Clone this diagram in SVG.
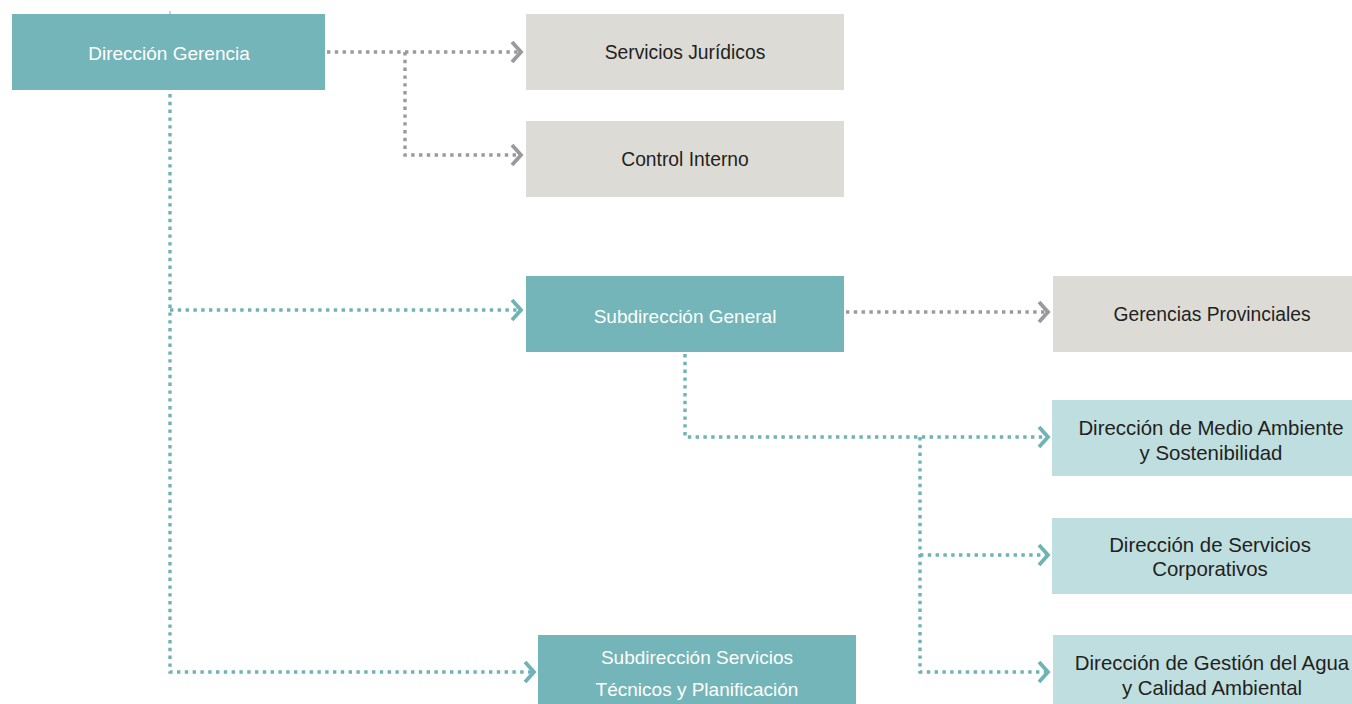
<svg xmlns="http://www.w3.org/2000/svg" width="1352" height="704" viewBox="0 0 1352 704">
<style>
.teal{fill:#74b5b9}
.gray{fill:#dcdbd6}
.light{fill:#bfdedf}
text{font-family:"Liberation Sans",Arial,sans-serif;font-size:19.3px;text-anchor:middle}
.w{fill:#ffffff;font-size:19px}
.d{fill:#231f20}
.l{font-size:20.4px}
.cg{fill:none;stroke:#9a9a9a;stroke-width:3.4;stroke-dasharray:3.4 4.4}
.ct{fill:none;stroke:#6fb3b5;stroke-width:3.4;stroke-dasharray:3.4 4.4}
</style>
<defs>
<marker id="ag" markerUnits="userSpaceOnUse" markerWidth="20" markerHeight="26" refX="12" refY="13" orient="auto" viewBox="0 0 20 26">
<path d="M3,3 L12,13 L3,23" fill="none" stroke="#9a9a9a" stroke-width="3.8"/>
</marker>
<marker id="at" markerUnits="userSpaceOnUse" markerWidth="20" markerHeight="26" refX="12" refY="13" orient="auto" viewBox="0 0 20 26">
<path d="M3,3 L12,13 L3,23" fill="none" stroke="#6fb3b5" stroke-width="3.8"/>
</marker>
</defs>
<g id="connectors">
<path class="cg" d="M327,52 H521" marker-end="url(#ag)"/>
<path class="cg" d="M405,52 V155 H521" marker-end="url(#ag)"/>
<path class="cg" d="M846,312 H1048" marker-end="url(#ag)"/>
<path class="ct" d="M170,94 V672 H534" marker-end="url(#at)"/>
<path class="ct" d="M170,310 H521" marker-end="url(#at)"/>
<path class="ct" d="M685,354 V437 H1048" marker-end="url(#at)"/>
<path class="ct" d="M920,437 V672 H1048" marker-end="url(#at)"/>
<path class="ct" d="M920,555 H1048" marker-end="url(#at)"/>
<line x1="170" y1="11" x2="170" y2="14" stroke="#cfcfcf" stroke-width="2"/>
</g>
<g id="direccion-gerencia">
<rect class="teal" x="12" y="14" width="313" height="76"/>
<text class="w" x="169" y="60">Dirección Gerencia</text>
</g>
<g id="servicios-juridicos">
<rect class="gray" x="526" y="14" width="318" height="76"/>
<text class="d" x="685" y="58.5">Servicios Jurídicos</text>
</g>
<g id="control-interno">
<rect class="gray" x="526" y="121" width="318" height="76"/>
<text class="d" x="685" y="165.5">Control Interno</text>
</g>
<g id="subdireccion-general">
<rect class="teal" x="526" y="276" width="318" height="76"/>
<text class="w" x="685" y="322.5">Subdirección General</text>
</g>
<g id="gerencias-provinciales">
<rect class="gray" x="1053" y="276" width="299" height="76"/>
<text class="d" x="1212" y="320.5">Gerencias Provinciales</text>
</g>
<g id="medio-ambiente">
<rect class="light" x="1052" y="400" width="300" height="76"/>
<text class="d l" x="1211" y="435">Dirección de Medio Ambiente</text>
<text class="d l" x="1211" y="460">y Sostenibilidad</text>
</g>
<g id="servicios-corporativos">
<rect class="light" x="1052" y="518" width="300" height="76"/>
<text class="d l" x="1210" y="552">Dirección de Servicios</text>
<text class="d l" x="1210" y="576">Corporativos</text>
</g>
<g id="gestion-agua">
<rect class="light" x="1053" y="635" width="299" height="69"/>
<text class="d l" x="1212" y="670">Dirección de Gestión del Agua</text>
<text class="d l" x="1212" y="695">y Calidad Ambiental</text>
</g>
<g id="subdireccion-servicios">
<rect class="teal" x="538" y="635" width="318" height="69"/>
<text class="w" x="697" y="663.5">Subdirección Servicios</text>
<text class="w" x="697" y="695.5">Técnicos y Planificación</text>
</g>
</svg>
